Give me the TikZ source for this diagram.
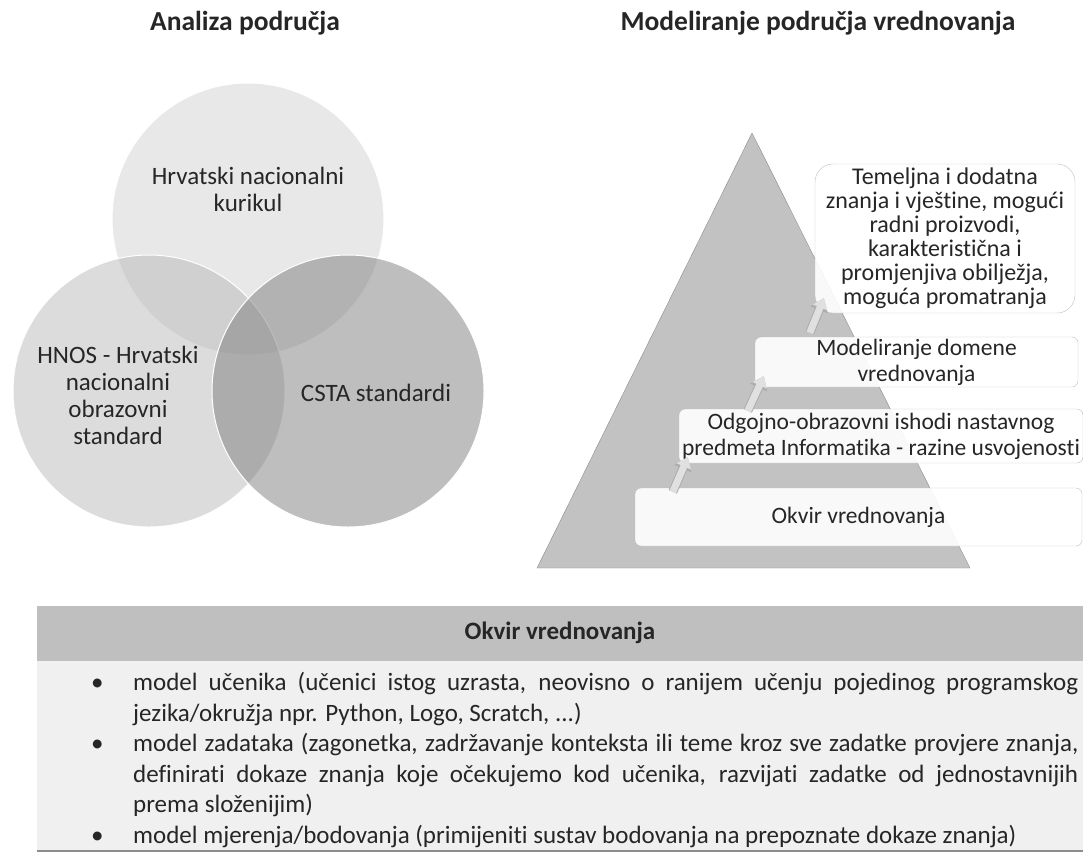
\documentclass[tikz,border=0pt]{standalone}
\usepackage{fontspec}
\setmainfont{Carlito}[Ligatures={NoCommon,NoContextual}]
\usepackage{tikz}
\usetikzlibrary{arrows.meta}

\definecolor{topgray}{gray}{0.82}
\definecolor{leftgray}{gray}{0.73}
\definecolor{rightgray}{gray}{0.49}
\definecolor{pyrgray}{gray}{0.76}
\definecolor{headgray}{gray}{0.75}
\definecolor{bodygray}{gray}{0.94}
\definecolor{textgray}{gray}{0.15}

\newcommand{\bitem}{\par\noindent\hangindent=42pt\hangafter=1\makebox[42pt][l]{\textbullet}}

\begin{document}
\begin{tikzpicture}[x=1pt,y=1pt]
        \tikzstyle{every node}+=[inner sep=0pt, text=textgray]
        \tikzstyle{venn}=[draw=white, line width=1pt, fill opacity=0.5]
        \tikzstyle{venntext}=[align=center, font=\fontsize{25}{27}\selectfont]
        \tikzstyle{heading}=[font=\fontsize{27.5}{30}\selectfont\bfseries]
        \tikzstyle{stepbox}=[draw=black!25, fill=white, fill opacity=0.9, text opacity=1, rounded corners=6pt, align=center, font=\fontsize{23.5}{26}\selectfont]
        \tikzstyle{uparrow}=[line width=7pt, draw=black!12, -{Triangle[width=15pt,length=10pt]},
            preaction={draw=black!32, line width=9pt, -{Triangle[width=18pt,length=12.5pt]}}]
        \useasboundingbox (0,0) rectangle (1083,-854);
        % headings
        \node [heading] (analiza) at (245,-23) {Analiza područja};
        \node [heading] (modeliranje) at (818,-23) {Modeliranje područja vrednovanja};
        % venn
        \draw [venn, fill=topgray] (248,-219) circle (136);
        \draw [venn, fill=leftgray] (149,-391) circle (136);
        \draw [venn, fill=rightgray] (348,-391) circle (136);
        \node [venntext] (kurikul) at (248,-189) {Hrvatski nacionalni\\kurikul};
        \node [venntext] (hnos) at (118,-395) {HNOS - Hrvatski\\nacionalni\\obrazovni\\standard};
        \node [venntext] (csta) at (376,-393) {CSTA standardi};
        % pyramid
        \draw [draw=black!45, fill=pyrgray] (752,-133) -- (970,-568) -- (537,-568) -- cycle;
        \node [stepbox, rounded corners=18pt, minimum width=260pt, minimum height=149pt, font=\fontsize{24}{24}\selectfont] (temeljna) at (945,-238.5) {Temeljna i dodatna\\znanja i vještine, mogući\\radni proizvodi,\\karakteristična i\\promjenjiva obilježja,\\moguća promatranja};
        \node [stepbox, minimum width=323pt, minimum height=50pt] (domena) at (916.5,-362) {Modeliranje domene\\vrednovanja};
        \node [stepbox, minimum width=404pt, minimum height=54pt] (ishodi) at (881,-436) {Odgojno-obrazovni ishodi nastavnog\\predmeta Informatika - razine usvojenosti};
        \node [stepbox, minimum width=447pt, minimum height=58pt] (okvir) at (858.5,-517) {Okvir vrednovanja};
        \draw [uparrow] ([shift={(38,-4)}]okvir.north west) -- ([shift={(9,6)}]ishodi.south west);
        \draw [uparrow] ([shift={(69,-2)}]ishodi.north west) -- ([shift={(9,11)}]domena.south west);
        \draw [uparrow] ([shift={(55,4)}]domena.north west) -- ([shift={(9,15)}]temeljna.south west);
        % table
        \fill [headgray] (37,-606) rectangle (1083,-661);
        \fill [bodygray] (37,-661) rectangle (1083,-851);
        \draw [black!45, line width=1.5pt] (37,-851) -- (1083,-851);
        \node [heading, font=\fontsize{25}{30}\selectfont\bfseries] (tablehead) at (560,-633) {Okvir vrednovanja};
        \node [anchor=north west, text width=987pt, align=justify, font=\fontsize{25}{30.5}\selectfont] (popis) at (91,-660) {\hyphenpenalty=10000
            \bitem model učenika (učenici istog uzrasta, neovisno o ranijem učenju pojedinog programskog\linebreak jezika/okružja npr. Python, Logo, Scratch, ...)
            \bitem model zadataka (zagonetka, zadržavanje konteksta ili teme kroz sve zadatke provjere znanja,\linebreak definirati dokaze znanja koje očekujemo kod učenika, razvijati zadatke od jednostavnijih\linebreak prema složenijim)
            \bitem model mjerenja/bodovanja (primijeniti sustav bodovanja na prepoznate dokaze znanja)\par};
    \end{tikzpicture}
\end{document}
